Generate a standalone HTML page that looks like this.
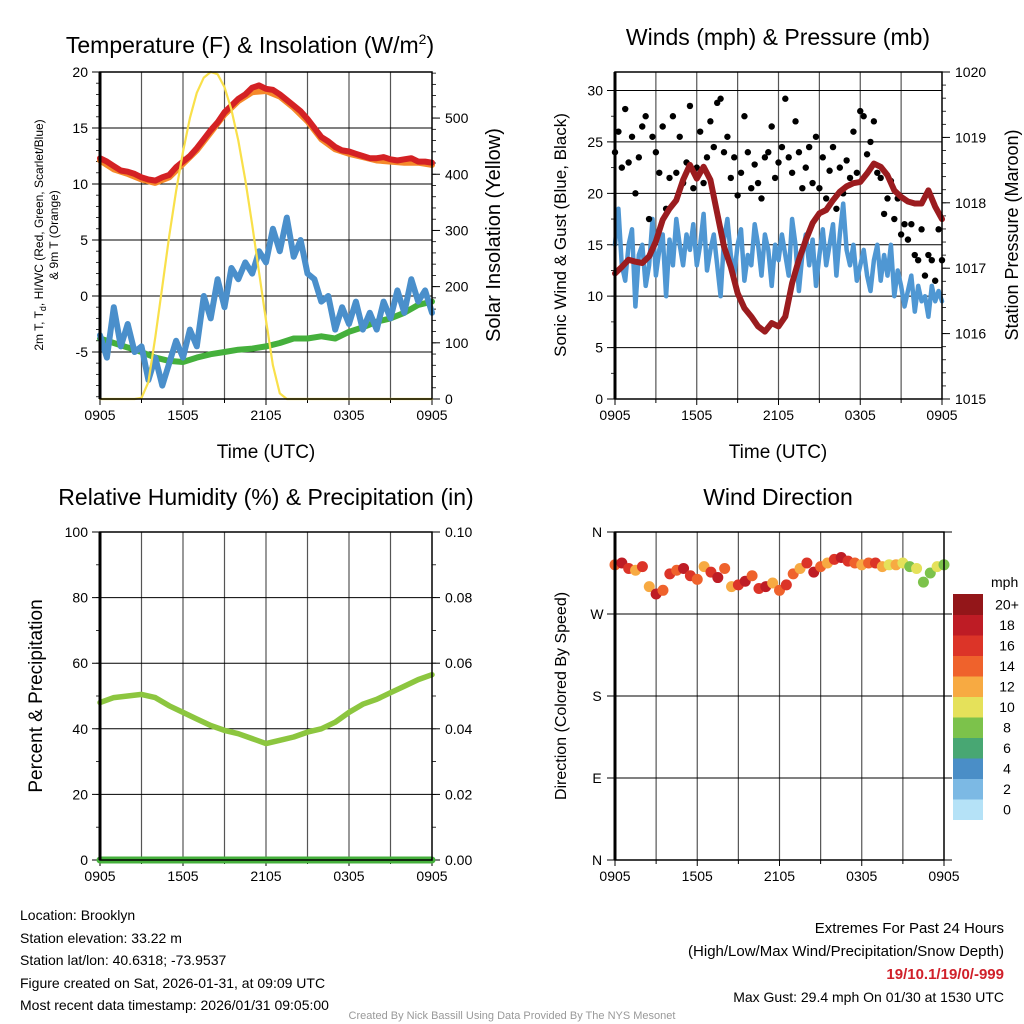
<!DOCTYPE html>
<html><head><meta charset="utf-8">
<style>
body{margin:0;background:#fff;}
svg{display:block;font-family:"Liberation Sans",sans-serif;}
</style></head>
<body>
<svg id="chart" width="1024" height="1024" viewBox="0 0 1024 1024" xmlns="http://www.w3.org/2000/svg">
<rect width="1024" height="1024" fill="#fff"/>
<g id="layer"></g>
<g font-size="14" fill="#000">
<text x="20" y="920">Location: Brooklyn</text>
<text x="20" y="943">Station elevation: 33.22 m</text>
<text x="20" y="965">Station lat/lon: 40.6318; -73.9537</text>
<text x="20" y="988">Figure created on Sat, 2026-01-31, at 09:09 UTC</text>
<text x="20" y="1003" dy="7">Most recent data timestamp: 2026/01/31 09:05:00</text>
<text x="1004" y="933" text-anchor="end" font-size="15">Extremes For Past 24 Hours</text>
<text x="1004" y="956" text-anchor="end" font-size="15">(High/Low/Max Wind/Precipitation/Snow Depth)</text>
<text x="1004" y="979" text-anchor="end" font-size="15" font-weight="bold" fill="#d0202a">19/10.1/19/0/-999</text>
<text x="1004" y="1002" text-anchor="end" font-size="14">Max Gust: 29.4 mph On 01/30 at 1530 UTC</text>
<text x="512" y="1019" text-anchor="middle" font-size="11" fill="#999">Created By Nick Bassill Using Data Provided By The NYS Mesonet</text>
</g>
</svg>
<script>
// ---- data (time in hours since 0905 UTC) ----
const xTickLabels = ["0905","1505","2105","0305","0905"];
const tempF = [12.3,12.0,11.6,11.2,11.1,10.9,10.6,10.4,10.3,10.6,10.8,11.5,12.0,12.5,13.2,14.0,14.8,15.5,16.4,17.0,17.6,18.0,18.6,18.8,18.5,18.4,18.0,17.5,17.0,16.5,15.8,15.0,14.2,13.8,13.3,13.0,12.9,12.7,12.5,12.3,12.3,12.4,12.2,12.1,12.2,12.3,12.0,12.0,11.9];
const temp9mF = [12.1,11.3,10.9,10.4,10.1,10.6,11.8,13.0,14.6,16.2,17.4,18.2,18.3,17.8,16.8,15.6,14.0,13.1,12.7,12.4,12.1,12.0,11.9,11.9,11.7];
const dewF = [-3.8,-4.2,-4.6,-5.0,-5.5,-5.8,-5.9,-5.5,-5.2,-5.0,-4.8,-4.7,-4.5,-4.2,-3.8,-3.8,-3.6,-3.8,-3.2,-2.8,-2.3,-2.0,-1.5,-0.8,-0.5];
const windChillF = [-3.5,-5.5,-1,-4.5,-2.5,-5,-4.5,-7.5,-5.5,-8,-6,-4,-5.5,-3,-4.5,0,-2,1.5,-1,2.5,1.5,3,2,4,3,6,4,7,3.5,5,2,1.5,-0.5,0,-3,-1,-2.5,-0.5,-3,-1.5,-3,-0.5,-2,0.5,-1.5,1.5,-0.5,0.5,-1.5];
const insolation = [0,0,0,0,0,0,2,30,110,200,290,370,440,500,545,572,582,578,555,515,460,390,310,225,140,60,10,0,0,0,0,0,0,0,0,0,0,0,0,0,0,0,0,0,0,0,0,0,0];
const tempTicks = [-5,0,5,10,15,20];
const insTicks = [0,100,200,300,400,500];

const windMph = [15,18.5,13,11.5,15,16.5,9,14,15,11,13,17.5,
12,14.5,16,10,15.5,13,17.5,15,13,16,14.5,17,
13,15,18,12.5,14.5,16,13,10,15.5,17.5,14,12,
15,16.5,11.5,14,13,17,15,12,16,14.5,11,15,
13.5,16,14,12,17.5,15,10.5,14,16,13,15.5,11,
14,16.5,13,15,17,12,16,19,14.5,13,15,11.5,
13,14.5,12,10.5,13.5,15,11.5,14,12,15,10,12.5,
11,9,10.5,12,8.5,11,9.5,10,8,11,9.5,10.5,9.5];
const gustMph = [24,26,22.5,28.2,23,25.5,20,23.5,26.5,27.5,17.5,25.5,
24,22,26.5,18.5,21.5,27.5,22,25.5,21,23,28.5,20.5,
22.5,26,21,23.5,27,24.5,28.8,29.2,24,25.5,21.5,23.5,
19.8,22,27.5,24,20.5,22.8,21,19.5,23.5,24,26.5,21.5,
23,24.5,29.2,23.5,22,27,24,20.5,22.5,24.5,21,25.5,
20.5,23.5,19.5,22.2,24.5,18.5,22.5,20,23.2,21.5,26,22,
28,27.5,23.8,25,27,22,21.5,18,19.5,21.2,17.5,19.5,
16,17,15.5,17,14,13.5,16.5,12,14,13.5,11.5,16.5,13.5];
const pressureMb = [1016.92,1017.02,1017.13,1017.10,1017.08,1017.18,1017.41,1017.74,1017.91,1018.04,1018.35,1018.58,1018.37,1018.55,1018.35,1017.84,1017.33,1017.02,1016.62,1016.39,1016.26,1016.11,1016.03,1016.16,1016.11,1016.26,1016.77,1017.13,1017.43,1017.69,1017.84,1017.89,1018.04,1018.17,1018.25,1018.30,1018.32,1018.45,1018.60,1018.55,1018.42,1018.19,1018.09,1018.02,1017.99,1017.99,1018.19,1017.94,1017.75];
const windTicks = [0,5,10,15,20,25,30];
const presTicks = [1015,1016,1017,1018,1019,1020];

const rhPct = [48,49.5,50,50.5,49.5,47,45,43,41,39.5,38.5,37,35.5,36.5,37.5,39,40,42,45,47.5,49,51,53,55,56.5];
const precipIn = [0,0,0,0,0,0,0,0,0,0,0,0,0,0,0,0,0,0,0,0,0,0,0,0,0];
const rhTicks = [0,20,40,60,80,100];
const precipTicks = ["0.00","0.02","0.04","0.06","0.08","0.10"];

const dirDeg = [324,326,320,318,322,300,292,296,314,318,320,312,308,322,316,310,320,300,302,306,312,298,300,304,296,302,314,320,326,316,322,326,330,332,328,326,324,326,326,322,324,324,326,322,320,305,315,322,324];
const dirSpeed = [14,18,16,12,16,12,18,14,16,14,18,16,14,12,16,18,14,12,16,18,14,16,18,12,14,16,14,12,16,18,14,12,16,18,16,14,12,14,16,12,10,12,10,9,10,8,8,10,8];
const dirTickLabels = ["N","E","S","W","N"];
const cbLabels = ["0","2","4","6","8","10","12","14","16","18","20+"];
const cbColors = ["#b5e2f7","#7cb9e4","#4a8ec7","#48a773","#7cc24b","#e5e15a","#f7aa42","#ef622c","#dc3428","#be1c25","#931619"];

// ---- helpers ----
const NS="http://www.w3.org/2000/svg";
const layer=document.getElementById('layer');
function mk(tag,attrs,parent){const e=document.createElementNS(NS,tag);for(const k in attrs)e.setAttribute(k,attrs[k]);(parent||layer).appendChild(e);return e;}
function txt(s,attrs,parent){const e=mk('text',attrs,parent);e.textContent=s;return e;}
function scale(d0,d1,r0,r1){return v=>r0+(v-d0)/(d1-d0)*(r1-r0);}
function linePath(xs,ys){return xs.map((x,i)=>(i?'L':'M')+x.toFixed(1)+','+ys[i].toFixed(1)).join('');}
function times(n){const step=24/(n-1);return Array.from({length:n},(_,i)=>i*step);}

function panel(name,L,R,T,B){
  const g=mk('g',{});
  
  
  const X=scale(0,24,L,R);
  for(let h=3;h<24;h+=3){const l=mk('line',{x1:X(h),x2:X(h),y1:T,y2:B,stroke:'#555','stroke-width':1.2},g);
    }
  for(let i=0;i<5;i++){const h=i*6;
    mk('line',{x1:X(h),x2:X(h),y1:B,y2:B+6,stroke:'#000','stroke-width':1},g);
    const t=txt(xTickLabels[i],{x:X(h),y:B+21,'text-anchor':'middle','font-size':14},g);
    }
  for(let h=3;h<24;h+=6){mk('line',{x1:X(h),x2:X(h),y1:B,y2:B+4,stroke:'#000','stroke-width':1},g);}
  return {g,X};
}
function frame(g,L,R,T,B){
  mk('rect',{x:L,y:T,width:R-L,height:B-T,fill:'none',stroke:'#000','stroke-width':1.5},g);
  mk('line',{x1:L,x2:L,y1:T,y2:B,stroke:'#000','stroke-width':3},g);
}
function leftAxis(g,L,R,Y,ticks,labels,minorStep,d0,d1){
  for(let v=d0;v<=d1+1e-9;v+=minorStep){const y=Y(v);mk('line',{x1:L-4,x2:L,y1:y,y2:y,stroke:'#000','stroke-width':0.8},g);}
  ticks.forEach((v,i)=>{const y=Y(v);
    mk('line',{x1:L-8,x2:R,y1:y,y2:y,stroke:'#000','stroke-width':1},g);
    const t=txt(labels?labels[i]:String(v),{x:L-12,y:y+5,'text-anchor':'end','font-size':14},g);
    });
}
function rightAxis(g,R,Y,ticks,labels,minorStep,d0,d1){
  for(let v=d0;v<=d1+1e-9;v+=minorStep){const y=Y(v);mk('line',{x1:R,x2:R+4,y1:y,y2:y,stroke:'#000','stroke-width':0.8},g);}
  ticks.forEach((v,i)=>{const y=Y(v);
    mk('line',{x1:R,x2:R+8,y1:y,y2:y,stroke:'#000','stroke-width':1},g);
    const t=txt(labels?labels[i]:String(v),{x:R+13,y:y+5,'font-size':14},g);
    });
}
function title(s,x,y,name){const t=txt(s,{x:x,y:y,'text-anchor':'middle','font-size':23});
  return t;}
function vlabel(s,x,y,size,name){const t=txt(s,{x:0,y:0,'text-anchor':'middle','font-size':size,transform:`translate(${x},${y}) rotate(-90)`});
  return t;}
function series(g,xs,ys,color,w,name){const p=mk('path',{d:linePath(xs,ys),fill:'none',stroke:color,'stroke-width':w,'stroke-linejoin':'round','stroke-linecap':'round'},g);
  return p;}

// ---- Panel 1: temperature ----
(function(){
  const L=100,R=432,T=72,B=399;
  const {g,X}=panel('temperature-panel',L,R,T,B);
  const Y=scale(-9.2,20,B,T), Y2=scale(0,582,B,T);
  leftAxis(g,L,R,Y,tempTicks,null,1,-9,20);
  rightAxis(g,R,Y2,insTicks,null,20,0,580);
  let tt=times(dewF.length); series(g,tt.map(X),dewF.map(Y),'#45b03c',6,'dewpoint-line');
  tt=times(windChillF.length); series(g,tt.map(X),windChillF.map(Y),'#4a8fcb',6,'wind-chill-line');
  tt=times(temp9mF.length); series(g,tt.map(X),temp9mF.map(Y),'#f5892a',6,'temp-9m-line');
  tt=times(tempF.length); series(g,tt.map(X),tempF.map(Y),'#d42124',6,'temp-2m-line');
  tt=times(insolation.length); series(g,tt.map(X),insolation.map(Y2),'#f9e04a',2.2,'insolation-line');
  frame(g,L,R,T,B);
  const t=title('Temperature (F) & Insolation (W/m',250,53,'temperature-title');
  const sup=mk('tspan',{dy:-9,'font-size':14},t);sup.textContent='2';
  const cl=mk('tspan',{dy:9},t);cl.textContent=')';
  const yl=txt('',{x:0,y:0,'text-anchor':'middle','font-size':12,transform:'translate(43,235) rotate(-90)'});
  
  yl.appendChild(document.createTextNode('2m T, T'));
  const sb=mk('tspan',{dy:3,'font-size':9},yl);sb.textContent='d';
  const rest=mk('tspan',{dy:-3},yl);rest.textContent=', HI/WC (Red, Green, Scarlet/Blue)';
  vlabel('& 9m T (Orange)',58,235,12,'temperature-y-title-line2');
  vlabel('Solar Insolation (Yellow)',500,235,20,'insolation-y-title');
  const xl=txt('Time (UTC)',{x:266,y:458,'text-anchor':'middle','font-size':19});
  
})();

// ---- Panel 2: winds & pressure ----
(function(){
  const L=615,R=942,T=72,B=399;
  const {g,X}=panel('wind-panel',L,R,T,B);
  const Y=scale(0,31.8,B,T), Y2=scale(1015,1020,B,T);
  leftAxis(g,L,R,Y,windTicks,null,2.5,0,31);
  rightAxis(g,R,Y2,presTicks,null,0.2,1015,1020);
  let tt=times(windMph.length); series(g,tt.map(X),windMph.map(Y),'#4f97d3',4.5,'wind-speed-line');
  tt=times(gustMph.length);
  gustMph.forEach((v,i)=>{const c=mk('circle',{cx:X(tt[i]),cy:Y(v),r:3.2,fill:'#000'},g);
    });
  tt=times(pressureMb.length); series(g,tt.map(X),pressureMb.map(Y2),'#9b1c1f',6,'pressure-line');
  frame(g,L,R,T,B);
  title('Winds (mph) & Pressure (mb)',778,45,'wind-title');
  vlabel('Sonic Wind & Gust (Blue, Black)',566,235,17,'wind-y-title');
  vlabel('Station Pressure (Maroon)',1018,235,18,'pressure-y-title');
  const xl=txt('Time (UTC)',{x:778,y:458,'text-anchor':'middle','font-size':19});
  
})();

// ---- Panel 3: RH & precipitation ----
(function(){
  const L=100,R=432,T=532,B=860;
  const {g,X}=panel('humidity-panel',L,R,T,B);
  const Y=scale(0,100,B,T), Y2=scale(0,0.1,B,T);
  leftAxis(g,L,R,Y,rhTicks,null,10,0,100);
  rightAxis(g,R,Y2,precipTicks.map(Number),precipTicks,0.01,0,0.1);
  let tt=times(rhPct.length); series(g,tt.map(X),rhPct.map(Y),'#8cc63f',5.5,'humidity-line');
  tt=times(precipIn.length); series(g,tt.map(X),precipIn.map(Y2),'#45b03c',7,'precip-line');
  frame(g,L,R,T,B);
  title('Relative Humidity (%) & Precipitation (in)',266,505,'humidity-title');
  vlabel('Percent & Precipitation',42,696,19,'humidity-y-title');
})();

// ---- Panel 4: wind direction ----
(function(){
  const L=615,R=944,T=532,B=860;
  const {g,X}=panel('direction-panel',L,R,T,B);
  const Y=scale(0,360,B,T);
  [0,90,180,270,360].forEach((v,i)=>{const y=Y(v);
    mk('line',{x1:L-8,x2:R+8,y1:y,y2:y,stroke:'#000','stroke-width':1},g);
    const t=txt(dirTickLabels[i],{x:L-18,y:y+5,'text-anchor':'middle','font-size':14},g);
    });
  const tt=times(dirDeg.length);
  dirDeg.forEach((v,i)=>{const bin=Math.min(10,Math.max(0,Math.floor(dirSpeed[i]/2)));
    const c=mk('circle',{cx:X(tt[i]),cy:Y(v),r:5.5,fill:cbColors[bin]},g);
    });
  frame(g,L,R,T,B);
  title('Wind Direction',778,505,'direction-title');
  vlabel('Direction (Colored By Speed)',566,696,16,'direction-y-title');
  const cb=mk('g',{});
  
  const h=20.5, top=594;
  cbLabels.forEach((lab,i)=>{const y=top+(10-i)*h;
    const r=mk('rect',{x:953,y:y,width:30,height:h+0.5,fill:cbColors[i]},cb);
    
    const t=txt(lab,{x:1007,y:y+h/2+5,'text-anchor':'middle','font-size':14},cb);
    });
  const u=txt('mph',{x:991,y:587,'font-size':14},cb);
  
})();
</script>
</body></html>
